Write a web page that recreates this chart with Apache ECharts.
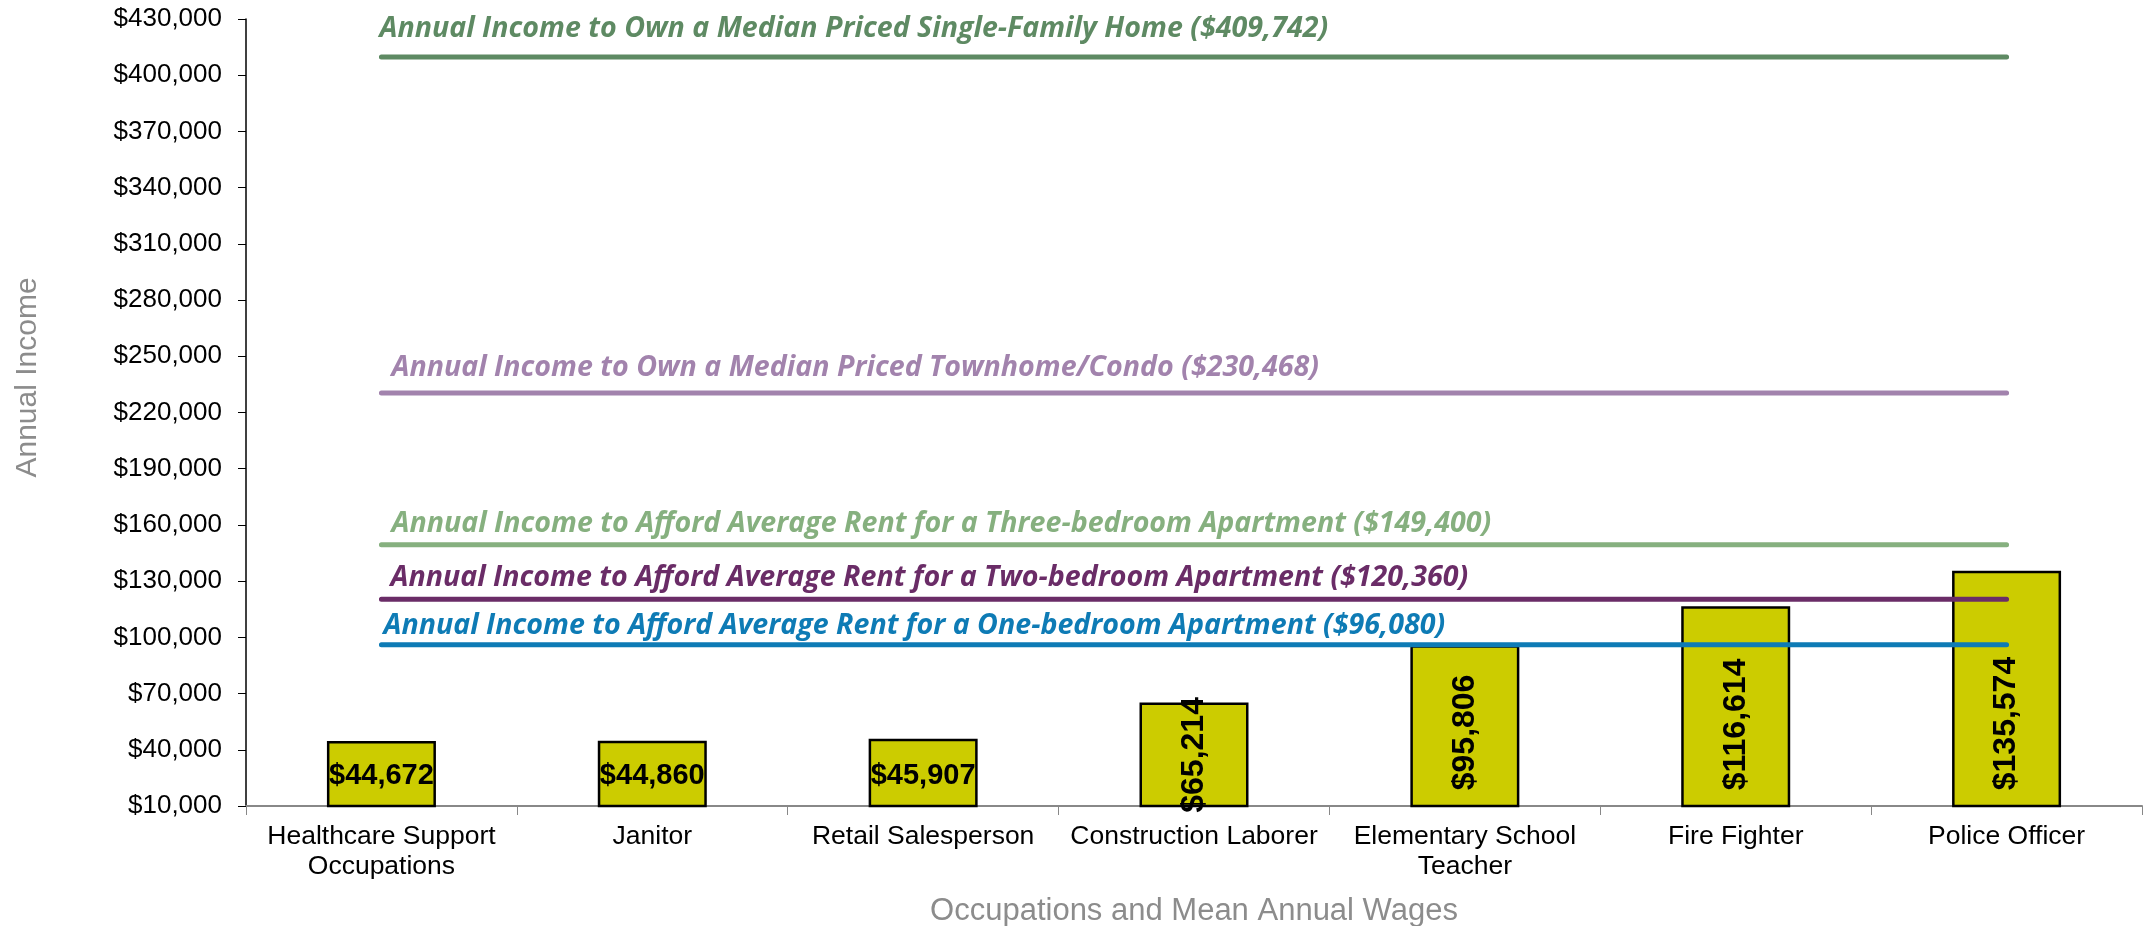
<!DOCTYPE html>
<html>
<head>
<meta charset="utf-8">
<script src="https://cdn.jsdelivr.net/npm/echarts@6/dist/echarts.min.js"></script>
<style>
html,body{margin:0;padding:0;background:#fff;}
#chart{width:2143px;height:926px;}
</style>
</head>
<body>
<div id="chart"></div>
<script>
const categories = ['Healthcare Support\nOccupations', 'Janitor', 'Retail Salesperson', 'Construction Laborer', 'Elementary School\nTeacher', 'Fire Fighter', 'Police Officer'];
const wages = [44672, 44860, 45907, 65214, 95806, 116614, 135574];
const thresholdNames = [
  'Annual Income to Own a Median Priced Single-Family Home ($409,742)',
  'Annual Income to Own a Median Priced Townhome/Condo ($230,468)',
  'Annual Income to Afford Average Rent for a Three-bedroom Apartment ($149,400)',
  'Annual Income to Afford Average Rent for a Two-bedroom Apartment ($120,360)',
  'Annual Income to Afford Average Rent for a One-bedroom Apartment ($96,080)'
];
const thresholdValues = [409742, 230468, 149400, 120360, 96080];
const yTicks = { min: 10000, max: 430000, interval: 30000 };

const lineColors = ['#5E8A63', '#A283AD', '#86B07F', '#6A2C67', '#0E7BB5'];
const labelGaps = [14, 11, 6, 7, 4];
const labelShiftX = [-2, 10, 10, 9, 2];

const fmt = v => '$' + Number(v).toLocaleString('en-US');

const barData = wages.map((v, i) => {
  const vertical = i >= 3;
  const item = { value: v };
  if (vertical) {
    item.label = i === 3
      ? { rotate: 90, position: 'inside', align: 'center', verticalAlign: 'middle', fontSize: 32 }
      : { rotate: 90, position: 'insideBottom', distance: 17, align: 'left', verticalAlign: 'middle', fontSize: 32 };
  }
  return item;
});

const lineSeries = thresholdValues.map((val, k) => ({
  type: 'line',
  name: thresholdNames[k],
  data: categories.map(() => val),
  symbol: 'circle',
  symbolSize: 0,
  showSymbol: true,
  z: 5,
  itemStyle: { color: lineColors[k] },
  lineStyle: { color: lineColors[k], width: 5, cap: 'round' },
  label: {
    show: true,
    position: 'top',
    align: 'left',
    distance: labelGaps[k],
    color: lineColors[k],
    fontFamily: 'Open Sans',
    fontStyle: 'italic',
    fontWeight: 'bold',
    fontSize: 28.6,
    formatter: p => p.dataIndex === 0 ? thresholdNames[k] : ''
  },
  labelLayout: { hideOverlap: false, dx: labelShiftX[k] },
  emphasis: { disabled: true },
  silent: true
}));

const chart = echarts.init(document.getElementById('chart'), null, { renderer: 'canvas' });
chart.setOption({
  animation: false,
  backgroundColor: '#ffffff',
  grid: { left: 246, right: 1, top: 19, bottom: 120, containLabel: false, outerBoundsMode: 'none' },
  xAxis: {
    type: 'category',
    data: categories,
    name: 'Occupations and Mean Annual Wages',
    nameLocation: 'middle',
    nameGap: 90,
    nameTextStyle: { color: '#8C8C8C', fontSize: 31, fontFamily: 'Liberation Sans' },
    axisLine: { lineStyle: { color: '#888888', width: 2 } },
    axisTick: { show: true, length: 9, lineStyle: { color: '#888888', width: 1 } },
    axisLabel: { color: '#000', fontSize: 26.5, fontFamily: 'Liberation Sans', margin: 16, lineHeight: 30, interval: 0 },
    splitLine: { show: false }
  },
  yAxis: {
    type: 'value',
    min: yTicks.min,
    max: yTicks.max,
    interval: yTicks.interval,
    name: 'Annual Income',
    nameLocation: 'middle',
    nameGap: 203,
    nameRotate: 90,
    nameTextStyle: { color: '#8C8C8C', fontSize: 30, fontFamily: 'Liberation Sans', padding: [0, 0, 0, 70] },
    axisLine: { show: true, lineStyle: { color: '#000', width: 1.5 } },
    axisTick: { show: true, length: 8, lineStyle: { color: '#000', width: 1 } },
    axisLabel: { color: '#000', fontSize: 26, fontFamily: 'Liberation Sans', margin: 24, formatter: v => fmt(v) },
    splitLine: { show: false }
  },
  series: [
    {
      type: 'bar',
      data: barData,
      barWidth: 109,
      z: 2,
      itemStyle: { color: '#CCCC00', borderColor: '#000', borderWidth: 2.5 },
      label: {
        show: true,
        position: 'insideBottom',
        distance: 17,
        color: '#000',
        fontFamily: 'Liberation Sans',
        fontWeight: 'bold',
        fontSize: 29,
        formatter: p => fmt(p.value)
      },
      emphasis: { disabled: true },
      silent: true
    },
    ...lineSeries
  ]
});
</script>
</body>
</html>
